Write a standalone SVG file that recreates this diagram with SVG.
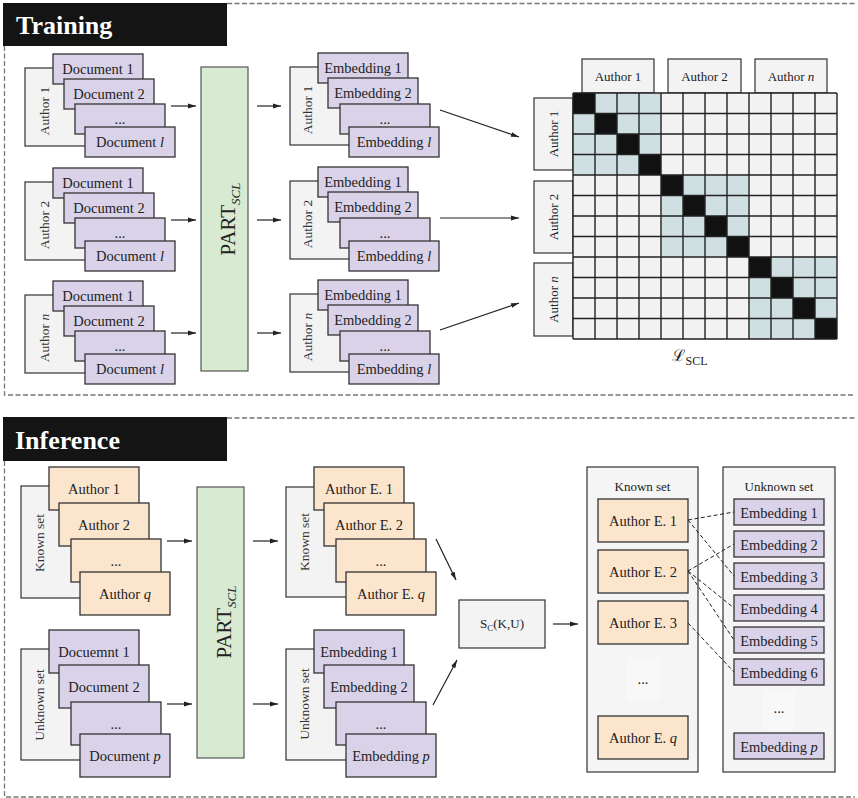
<svg xmlns="http://www.w3.org/2000/svg" width="858" height="798" viewBox="0 0 858 798">
<style>
text{font-family:"Liberation Serif","DejaVu Serif",serif;fill:#222}
.t{font-size:14.5px;text-anchor:middle}
.s{font-size:13px;text-anchor:middle}
.lab{font-size:13.5px;text-anchor:middle;fill:#333}
.g{fill:#f3f3f3;stroke:#333;stroke-width:1.2}
.p{fill:#d9d2e9;stroke:#333;stroke-width:1.3}
.o{fill:#fce5cd;stroke:#333;stroke-width:1.3}
.gr{fill:#d9ead3;stroke:#555;stroke-width:1.2}
.pn{fill:#f5f5f5;stroke:#333;stroke-width:1.2}
.hd{fill:#141414}
.ht{font-size:26px;font-weight:bold;fill:#fff}
.part{font-size:21px;text-anchor:middle}
.dash{fill:none;stroke:#777;stroke-width:1.3;stroke-dasharray:5 2.5}
.ar{stroke:#222;stroke-width:1.2;fill:none;marker-end:url(#ah)}
.dl{stroke:#222;stroke-width:1;fill:none;stroke-dasharray:4 2.5}
.it{font-style:italic}
</style>
<defs>
<marker id="ah" viewBox="0 0 10 10" refX="10" refY="5" markerWidth="8" markerHeight="8" markerUnits="userSpaceOnUse" orient="auto">
<path d="M0,2 L10,5 L0,8 z" fill="#222"/>
</marker>
</defs>

<!-- Section frames -->
<g id="training-frame">
<path class="dash" d="M227 3.5 H855 M4.5 46 V395 H855"/>
<rect class="hd" x="3" y="3" width="224" height="43"/>
<text class="ht" x="16" y="34">Training</text>
</g>
<g id="inference-frame">
<path class="dash" d="M227 418 H855 M4.5 461 V797 H855"/>
<rect class="hd" x="3" y="417" width="224" height="44"/>
<text class="ht" x="15" y="449">Inference</text>
</g>

<!-- Training document stacks -->
<g id="train-docs-1">
<rect class="g" x="25" y="68" width="80" height="78"/>
<text class="lab" transform="translate(49,111) rotate(-90)">Author 1</text>
<rect class="p" x="53" y="54" width="90" height="30"/><text class="t" x="98" y="74">Document 1</text>
<rect class="p" x="64" y="79" width="90" height="30"/><text class="t" x="109" y="99">Document 2</text>
<rect class="p" x="75" y="104" width="90" height="30"/><text class="t" x="120" y="124">...</text>
<rect class="p" x="85" y="127" width="90" height="30"/><text class="t" x="130" y="147">Document <tspan class="it">l</tspan></text>
</g>
<g id="train-docs-2" transform="translate(0,114)">
<rect class="g" x="25" y="68" width="80" height="78"/>
<text class="lab" transform="translate(49,111) rotate(-90)">Author 2</text>
<rect class="p" x="53" y="54" width="90" height="30"/><text class="t" x="98" y="74">Document 1</text>
<rect class="p" x="64" y="79" width="90" height="30"/><text class="t" x="109" y="99">Document 2</text>
<rect class="p" x="75" y="104" width="90" height="30"/><text class="t" x="120" y="124">...</text>
<rect class="p" x="85" y="127" width="90" height="30"/><text class="t" x="130" y="147">Document <tspan class="it">l</tspan></text>
</g>
<g id="train-docs-n" transform="translate(0,227)">
<rect class="g" x="25" y="68" width="80" height="78"/>
<text class="lab" transform="translate(49,111) rotate(-90)">Author <tspan class="it">n</tspan></text>
<rect class="p" x="53" y="54" width="90" height="30"/><text class="t" x="98" y="74">Document 1</text>
<rect class="p" x="64" y="79" width="90" height="30"/><text class="t" x="109" y="99">Document 2</text>
<rect class="p" x="75" y="104" width="90" height="30"/><text class="t" x="120" y="124">...</text>
<rect class="p" x="85" y="127" width="90" height="30"/><text class="t" x="130" y="147">Document <tspan class="it">l</tspan></text>
</g>

<!-- Training PART -->
<g id="train-part">
<rect class="gr" x="201" y="67" width="47" height="304"/>
<text class="part" transform="translate(235,219) rotate(-90)">PART<tspan class="it" font-size="13" dy="5">SCL</tspan></text>
</g>

<!-- Training embedding stacks -->
<g id="train-emb-1">
<rect class="g" x="290" y="67" width="80" height="78"/>
<text class="lab" transform="translate(312,110) rotate(-90)">Author 1</text>
<rect class="p" x="318" y="53" width="90" height="30"/><text class="t" x="363" y="73">Embedding 1</text>
<rect class="p" x="328" y="78" width="90" height="30"/><text class="t" x="373" y="98">Embedding 2</text>
<rect class="p" x="340" y="104" width="90" height="30"/><text class="t" x="385" y="124">...</text>
<rect class="p" x="349" y="127" width="90" height="30"/><text class="t" x="394" y="147">Embedding <tspan class="it">l</tspan></text>
</g>
<g id="train-emb-2" transform="translate(0,114)">
<rect class="g" x="290" y="67" width="80" height="78"/>
<text class="lab" transform="translate(312,110) rotate(-90)">Author 2</text>
<rect class="p" x="318" y="53" width="90" height="30"/><text class="t" x="363" y="73">Embedding 1</text>
<rect class="p" x="328" y="78" width="90" height="30"/><text class="t" x="373" y="98">Embedding 2</text>
<rect class="p" x="340" y="104" width="90" height="30"/><text class="t" x="385" y="124">...</text>
<rect class="p" x="349" y="127" width="90" height="30"/><text class="t" x="394" y="147">Embedding <tspan class="it">l</tspan></text>
</g>
<g id="train-emb-n" transform="translate(0,227)">
<rect class="g" x="290" y="67" width="80" height="78"/>
<text class="lab" transform="translate(312,110) rotate(-90)">Author <tspan class="it">n</tspan></text>
<rect class="p" x="318" y="53" width="90" height="30"/><text class="t" x="363" y="73">Embedding 1</text>
<rect class="p" x="328" y="78" width="90" height="30"/><text class="t" x="373" y="98">Embedding 2</text>
<rect class="p" x="340" y="104" width="90" height="30"/><text class="t" x="385" y="124">...</text>
<rect class="p" x="349" y="127" width="90" height="30"/><text class="t" x="394" y="147">Embedding <tspan class="it">l</tspan></text>
</g>

<!-- Similarity matrix -->
<g id="matrix">
<rect class="g" x="582" y="59" width="72" height="34"/><text class="s" x="618" y="81">Author 1</text>
<rect class="g" x="668" y="59" width="73" height="34"/><text class="s" x="704.5" y="81">Author 2</text>
<rect class="g" x="755" y="59" width="72" height="34"/><text class="s" x="791" y="81">Author <tspan class="it">n</tspan></text>
<rect class="g" x="534" y="98" width="39" height="72"/><text class="s" transform="translate(558,134) rotate(-90)">Author 1</text>
<rect class="g" x="534" y="181" width="39" height="72"/><text class="s" transform="translate(558,217) rotate(-90)">Author 2</text>
<rect class="g" x="534" y="263" width="39" height="73"/><text class="s" transform="translate(558,299.5) rotate(-90)">Author <tspan class="it">n</tspan></text>
<rect x="573" y="93" width="264" height="246" fill="#f2f2f2"/>
<g fill="#d0dfe2">
<rect x="573" y="93" width="88" height="82"/>
<rect x="661" y="175" width="88" height="82"/>
<rect x="749" y="257" width="88" height="82"/>
</g>
<g fill="#111">
<rect x="573" y="93" width="22" height="20.5"/>
<rect x="595" y="113.5" width="22" height="20.5"/>
<rect x="617" y="134" width="22" height="20.5"/>
<rect x="639" y="154.5" width="22" height="20.5"/>
<rect x="661" y="175" width="22" height="20.5"/>
<rect x="683" y="195.5" width="22" height="20.5"/>
<rect x="705" y="216" width="22" height="20.5"/>
<rect x="727" y="236.5" width="22" height="20.5"/>
<rect x="749" y="257" width="22" height="20.5"/>
<rect x="771" y="277.5" width="22" height="20.5"/>
<rect x="793" y="298" width="22" height="20.5"/>
<rect x="815" y="318.5" width="22" height="20.5"/>
</g>
<path fill="none" stroke="#222" stroke-width="1.4" d="M573 93V339M595 93V339M617 93V339M639 93V339M661 93V339M683 93V339M705 93V339M727 93V339M749 93V339M771 93V339M793 93V339M815 93V339M837 93V339M573 93H837M573 113.5H837M573 134H837M573 154.5H837M573 175H837M573 195.5H837M573 216H837M573 236.5H837M573 257H837M573 277.5H837M573 298H837M573 318.5H837M573 339H837"/>
<text x="690" y="361" text-anchor="middle" font-size="16">ℒ<tspan font-size="12" dy="4">SCL</tspan></text>
</g>

<!-- Inference input stacks -->
<g id="inf-known-docs">
<rect class="g" x="21" y="486" width="80" height="112"/>
<text class="lab" transform="translate(44,543) rotate(-90)">Known set</text>
<rect class="o" x="49" y="467" width="90" height="43"/><text class="t" x="94" y="493.5">Author 1</text>
<rect class="o" x="59" y="503" width="90" height="43"/><text class="t" x="104" y="529.5">Author 2</text>
<rect class="o" x="71" y="539" width="90" height="43"/><text class="t" x="116" y="565.5">...</text>
<rect class="o" x="80" y="572" width="90" height="43"/><text class="t" x="125" y="598.5">Author <tspan class="it">q</tspan></text>
</g>
<g id="inf-unknown-docs">
<rect class="g" x="21" y="649" width="80" height="111"/>
<text class="lab" transform="translate(44,705) rotate(-90)">Unknown set</text>
<rect class="p" x="49" y="630" width="90" height="43"/><text class="t" x="94" y="656.5">Docuemnt 1</text>
<rect class="p" x="59" y="665" width="90" height="43"/><text class="t" x="104" y="691.5">Document 2</text>
<rect class="p" x="71" y="702" width="90" height="43"/><text class="t" x="116" y="728.5">...</text>
<rect class="p" x="80" y="734" width="90" height="43"/><text class="t" x="125" y="760.5">Document <tspan class="it">p</tspan></text>
</g>

<!-- Inference PART -->
<g id="inf-part">
<rect class="gr" x="197" y="487" width="47" height="271"/>
<text class="part" transform="translate(231,622) rotate(-90)">PART<tspan class="it" font-size="13" dy="5">SCL</tspan></text>
</g>

<!-- Inference embedding stacks -->
<g id="inf-known-emb">
<rect class="g" x="286" y="487" width="80" height="110"/>
<text class="lab" transform="translate(309,542) rotate(-90)">Known set</text>
<rect class="o" x="314" y="467" width="90" height="43"/><text class="t" x="359" y="493.5">Author E. 1</text>
<rect class="o" x="324" y="503" width="90" height="43"/><text class="t" x="369" y="529.5">Author E. 2</text>
<rect class="o" x="336" y="539" width="90" height="43"/><text class="t" x="381" y="565.5">...</text>
<rect class="o" x="346" y="572" width="90" height="43"/><text class="t" x="391" y="598.5">Author E. <tspan class="it">q</tspan></text>
</g>
<g id="inf-unknown-emb">
<rect class="g" x="286" y="649" width="80" height="111"/>
<text class="lab" transform="translate(309,704) rotate(-90)">Unknown set</text>
<rect class="p" x="314" y="630" width="90" height="43"/><text class="t" x="359" y="656.5">Embedding 1</text>
<rect class="p" x="324" y="665" width="90" height="43"/><text class="t" x="369" y="691.5">Embedding 2</text>
<rect class="p" x="336" y="702" width="90" height="43"/><text class="t" x="381" y="728.5">...</text>
<rect class="p" x="346" y="734" width="90" height="43"/><text class="t" x="391" y="760.5">Embedding <tspan class="it">p</tspan></text>
</g>

<!-- Similarity -->
<g id="sim">
<rect class="g" x="459" y="600" width="86" height="48"/>
<text x="502" y="628" text-anchor="middle" font-size="13">S<tspan font-size="9" dy="3">C</tspan><tspan dy="-3">(K,U)</tspan></text>
</g>

<!-- Result panels -->
<g id="known-panel">
<rect class="pn" x="587" y="467" width="111" height="305"/>
<text class="s" x="642.5" y="491">Known set</text>
<rect class="o" x="598" y="499" width="90" height="43"/><text class="t" x="643" y="525.5">Author E. 1</text>
<rect class="o" x="598" y="550" width="90" height="43"/><text class="t" x="643" y="576.5">Author E. 2</text>
<rect class="o" x="598" y="601" width="90" height="43"/><text class="t" x="643" y="627.5">Author E. 3</text>
<rect x="627" y="658" width="33" height="42" fill="#f8f8f8"/><text class="t" x="643" y="684">...</text>
<rect class="o" x="598" y="716" width="90" height="43"/><text class="t" x="643" y="742.5">Author E. <tspan class="it">q</tspan></text>
</g>
<g id="unknown-panel">
<rect class="pn" x="723" y="467" width="112" height="305"/>
<text class="s" x="779" y="491">Unknown set</text>
<rect class="p" x="734" y="499" width="90" height="26"/><text class="t" x="779" y="517.5">Embedding 1</text>
<rect class="p" x="734" y="531" width="90" height="26"/><text class="t" x="779" y="549.5">Embedding 2</text>
<rect class="p" x="734" y="563" width="90" height="26"/><text class="t" x="779" y="581.5">Embedding 3</text>
<rect class="p" x="734" y="595" width="90" height="26"/><text class="t" x="779" y="613.5">Embedding 4</text>
<rect class="p" x="734" y="627" width="90" height="26"/><text class="t" x="779" y="645.5">Embedding 5</text>
<rect class="p" x="734" y="659" width="90" height="26"/><text class="t" x="779" y="677.5">Embedding 6</text>
<rect x="763" y="690" width="32" height="40" fill="#f8f8f8"/><text class="t" x="779" y="713">...</text>
<rect class="p" x="734" y="733" width="90" height="26"/><text class="t" x="779" y="751.5">Embedding <tspan class="it">p</tspan></text>
</g>

<!-- Connectors -->
<g id="connectors">
<line class="ar" x1="171" y1="106" x2="196" y2="106"/>
<line class="ar" x1="171" y1="220" x2="196" y2="220"/>
<line class="ar" x1="171" y1="333" x2="196" y2="333"/>
<line class="ar" x1="257" y1="106" x2="281" y2="106"/>
<line class="ar" x1="257" y1="220" x2="281" y2="220"/>
<line class="ar" x1="257" y1="333" x2="281" y2="333"/>
<line class="ar" x1="440" y1="110" x2="519" y2="137"/>
<line class="ar" x1="440" y1="218" x2="519" y2="218"/>
<line class="ar" x1="440" y1="330" x2="519" y2="303"/>
<line class="ar" x1="167" y1="541" x2="192" y2="541"/>
<line class="ar" x1="253" y1="541" x2="278" y2="541"/>
<line class="ar" x1="167" y1="704" x2="192" y2="704"/>
<line class="ar" x1="253" y1="704" x2="278" y2="704"/>
<line class="ar" x1="436" y1="539" x2="456" y2="580"/>
<line class="ar" x1="433" y1="705" x2="457" y2="660"/>
<line class="ar" x1="553" y1="624" x2="578" y2="624"/>
<path class="dl" d="M688 520 L734 512 M688 520 L734 576 M688 571 L734 544 M688 571 L734 608 M688 571 L734 640 M688 623 L734 672"/>
</g>
</svg>
